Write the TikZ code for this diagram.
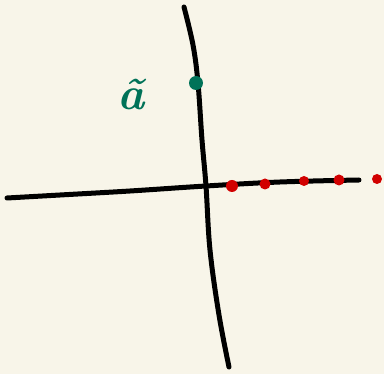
\documentclass[tikz,border=0pt]{standalone}
\usepackage{fontspec}
\usepackage{tikz}

\definecolor{paper}{RGB}{248,245,233}
\definecolor{inkgreen}{RGB}{0,114,88}
\definecolor{inkred}{RGB}{209,0,0}

\begin{document}
\begin{tikzpicture}[x=1pt, y=-1pt,
    dot/.style={circle, fill=inkred, inner sep=0pt, minimum size=12pt},
    axisline/.style={line width=5pt, line cap=round, black}]
    \fill[paper] (0,0) rectangle (384,374);
    \useasboundingbox (0,0) rectangle (384,374);

    % vertical axis
    \draw[axisline] plot[smooth, tension=0.6] coordinates {(184,7) (193,45) (198,83) (202,140) (206,186) (210,250) (219,315) (229,367)};

    % horizontal axis
    \draw[axisline] plot[smooth, tension=0.6] coordinates {(7,198) (60,195) (130,191) (206,186) (280,182) (359,180)};

    % point a on the vertical axis
    \node[circle, fill=inkgreen, inner sep=0pt, minimum size=14pt] (a) at (196,83) {};
    \node[inkgreen, font=\fontsize{46}{46}\selectfont\bfseries\itshape] (alabel) at (131,95) {\~a};

    % points on the horizontal axis
    \node[dot] (p1) at (232,186) {};
    \node[dot, minimum size=11pt] (p2) at (265,184) {};
    \node[dot, minimum size=10pt] (p3) at (304,181) {};
    \node[dot, minimum size=11pt] (p4) at (339,180) {};
    \node[dot, minimum size=10pt] (p5) at (377,179) {};
\end{tikzpicture}
\end{document}
